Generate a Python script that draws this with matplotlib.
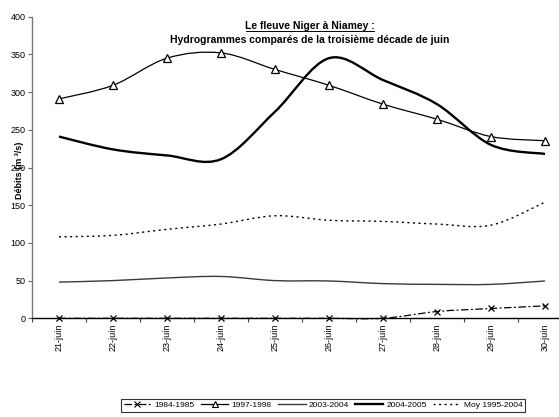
import matplotlib
matplotlib.use("Agg")
import matplotlib.pyplot as plt
from matplotlib.path import Path
from matplotlib.patches import PathPatch
from matplotlib.lines import Line2D

plt.rcParams['font.family'] = ['Liberation Sans', 'DejaVu Sans']

categories = ["21-juin", "22-juin", "23-juin", "24-juin", "25-juin",
              "26-juin", "27-juin", "28-juin", "29-juin", "30-juin"]
s1984 = [0, 0, 0, 0, 0, 0, 0, 9, 13, 16.5]
s1997 = [291, 309, 345, 352, 330, 309, 284, 264, 241, 235.5]
s2003 = [48, 50, 53.5, 55.5, 50, 49.5, 46, 45, 45, 49.5]
s2004 = [241, 224, 216, 211, 274, 345, 316, 284, 230, 218]
smoy = [108, 110, 118, 125, 136, 130, 128.5, 125, 123.5, 154]
yticks = [0, 50, 100, 150, 200, 250, 300, 350, 400]

fig = plt.figure(figsize=(5.59, 4.17), dpi=100)
ax = fig.add_axes([32/559, (417-318.3)/417, 540/559, (318.3-16.7)/417])

def smooth_path(xs, ys):
    n = len(xs)
    pts = list(zip(xs, ys))
    verts = [pts[0]]
    codes = [Path.MOVETO]
    for i in range(n - 1):
        p0 = pts[i - 1] if i > 0 else pts[i]
        p1 = pts[i]
        p2 = pts[i + 1]
        p3 = pts[i + 2] if i + 2 < n else pts[i + 1]
        c1 = (p1[0] + (p2[0] - p0[0]) / 6, p1[1] + (p2[1] - p0[1]) / 6)
        c2 = (p2[0] - (p3[0] - p1[0]) / 6, p2[1] - (p3[1] - p1[1]) / 6)
        verts += [c1, c2, p2]
        codes += [Path.CURVE4] * 3
    return Path(verts, codes)

x = list(range(len(categories)))
styles = [
    (s1984, dict(color='black', lw=0.9, ls=(0, (6, 2, 1.5, 2))), 'x', "1984-1985"),
    (s1997, dict(color='black', lw=0.9, ls='-'), '^', "1997-1998"),
    (s2003, dict(color='#3a3a3a', lw=1.0, ls='-'), None, "2003-2004"),
    (s2004, dict(color='black', lw=1.7, ls='-'), None, "2004-2005"),
    (smoy, dict(color='black', lw=1.0, ls=(0, (1.5, 2.5))), None, "Moy 1995-2004"),
]
handles = []
for ys, st, mk, lab in styles:
    patch = PathPatch(smooth_path(x, ys), fill=False, edgecolor=st['color'],
                      lw=st['lw'], ls=st['ls'], zorder=3, clip_on=False)
    ax.add_patch(patch)
    if mk == 'x':
        ax.plot(x, ys, ls='none', marker='x', ms=5, mew=0.9, color='black', zorder=4, clip_on=False)
    elif mk == '^':
        ax.plot(x, ys, ls='none', marker='^', ms=5.5, mew=0.9, mfc='white', mec='black', zorder=4, clip_on=False)
    handles.append(Line2D([], [], color=st['color'], lw=st['lw'], ls=st['ls'],
                          marker=mk if mk else None, ms=4, mew=0.8,
                          mfc='white' if mk == '^' else 'black', mec='black'))

ax.set_xlim(-0.5, 9.5)
ax.set_ylim(0, 400)
ax.set_yticks(yticks)
ax.set_yticklabels([str(v) for v in yticks], fontsize=6.5)
ax.set_xticks(x)
ax.set_xticklabels(categories, rotation=90, fontsize=6.5, va='top')
ax.set_xticks([i + 0.5 for i in range(-1, 10)], minor=True)
ax.tick_params(axis='x', which='major', length=0, pad=4)
ax.tick_params(axis='x', which='minor', length=3, width=0.8, direction='out', color='#444444')
ax.tick_params(axis='y', length=3, width=0.8, direction='out', color='#666666', pad=1.5)
for s in ['top', 'right']:
    ax.spines[s].set_visible(False)
ax.spines['left'].set_color('#777777')
ax.spines['left'].set_linewidth(1.0)
ax.spines['bottom'].set_color('black')
ax.spines['bottom'].set_linewidth(1.0)

fig.text(19/559, 1 - 170/417, "Débits (m ³/s)", rotation=90, ha='center', va='center',
         fontsize=6.5, fontweight='bold')

fig.text(310/559, 1 - 26/417, "Le fleuve Niger à Niamey :", ha='center', va='center',
         fontsize=7.5, fontweight='bold')
fig.add_artist(Line2D([246/559, 374/559], [1 - 31/417, 1 - 31/417], color='black', lw=0.7))
fig.text(310/559, 1 - 40/417, "Hydrogrammes comparés de la troisième décade de juin",
         ha='center', va='center', fontsize=7.5, fontweight='bold')

leg = fig.legend(handles, [s[3] for s in styles], loc='center',
                 bbox_to_anchor=(323/559, 1 - 405.5/417), ncol=5, fontsize=6,
                 frameon=True, fancybox=False, edgecolor='black', handlelength=3.3,
                 handletextpad=0.4, columnspacing=0.75, borderpad=0.3, borderaxespad=0)
leg.get_frame().set_linewidth(0.8)

fig.savefig("out.png", dpi=100)
